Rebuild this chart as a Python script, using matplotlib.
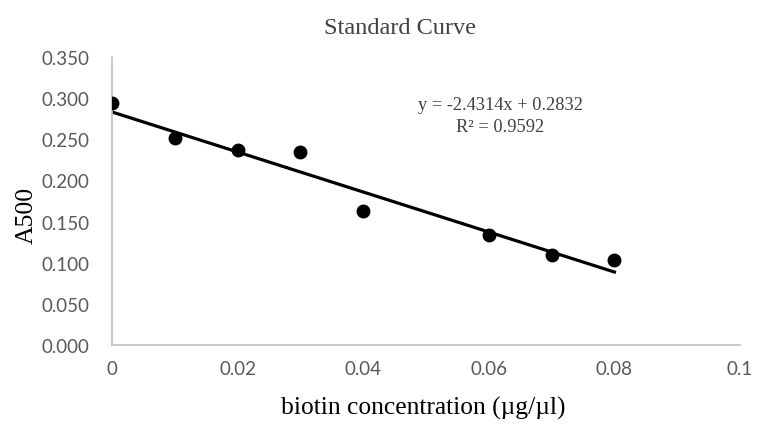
import matplotlib
matplotlib.use("Agg")
import matplotlib.pyplot as plt
import numpy as np

conc = [0.0, 0.01, 0.02, 0.03, 0.04, 0.06, 0.07, 0.08]
a500 = [0.294, 0.251, 0.237, 0.234, 0.163, 0.134, 0.109, 0.103]
slope = -2.4314
intercept = 0.2832
r2 = 0.9592
xticks = [0, 0.02, 0.04, 0.06, 0.08, 0.1]
xticklabels = ["0", "0.02", "0.04", "0.06", "0.08", "0.1"]
yticks = [0.0, 0.05, 0.1, 0.15, 0.2, 0.25, 0.3, 0.35]
yticklabels = ["0.000", "0.050", "0.100", "0.150", "0.200", "0.250", "0.300", "0.350"]

W, H = 758, 427
fig = plt.figure(figsize=(W / 100, H / 100), dpi=100)
ax = fig.add_axes([112 / W, 1 - 346 / H, (740 - 112) / W, (346 - 58) / H])

xf = np.array([min(conc), max(conc)])
ax.plot(xf, slope * xf + intercept, color="black", lw=2.3, zorder=2)
ax.plot(conc, a500, "o", color="black", ms=9, zorder=3)

ax.set_xlim(0, 0.1)
ax.set_ylim(0, 0.35)
ax.set_xticks(xticks)
ax.set_xticklabels(xticklabels)
ax.set_yticks(yticks)
ax.set_yticklabels(yticklabels)
ax.tick_params(length=0, labelsize=13.5, colors="#595959")
ax.tick_params(axis="y", pad=16)
ax.tick_params(axis="x", pad=11)
for lab in ax.get_xticklabels() + ax.get_yticklabels():
    lab.set_family(["Lato", "DejaVu Sans"])
for s in ["top", "right"]:
    ax.spines[s].set_visible(False)
for s in ["left", "bottom"]:
    ax.spines[s].set_color("#bfbfbf")
    ax.spines[s].set_linewidth(1.2)

serif = ["Liberation Serif", "DejaVu Serif"]
fig.text(400 / W, 1 - 29 / H, "Standard Curve", family=serif, fontsize=17.5,
         color="#404040", ha="center", va="center")
fig.text(27 / W, 1 - 215 / H, "A500", family=serif, fontsize=18.5, rotation=90,
         ha="center", va="center")
fig.text(423 / W, 1 - 408 / H, "biotin concentration (\u00b5g/\u00b5l)", family=serif,
         fontsize=18.4, ha="center", va="center")

ax.text(0.0618, 0.2790, f"y = {slope:.4f}x + {intercept:.4f}\nR\u00b2 = {r2:.4f}",
        family=serif, fontsize=13.2, color="#404040", ha="center", va="center",
        linespacing=1.4)

fig.savefig("out.png", dpi=100)
